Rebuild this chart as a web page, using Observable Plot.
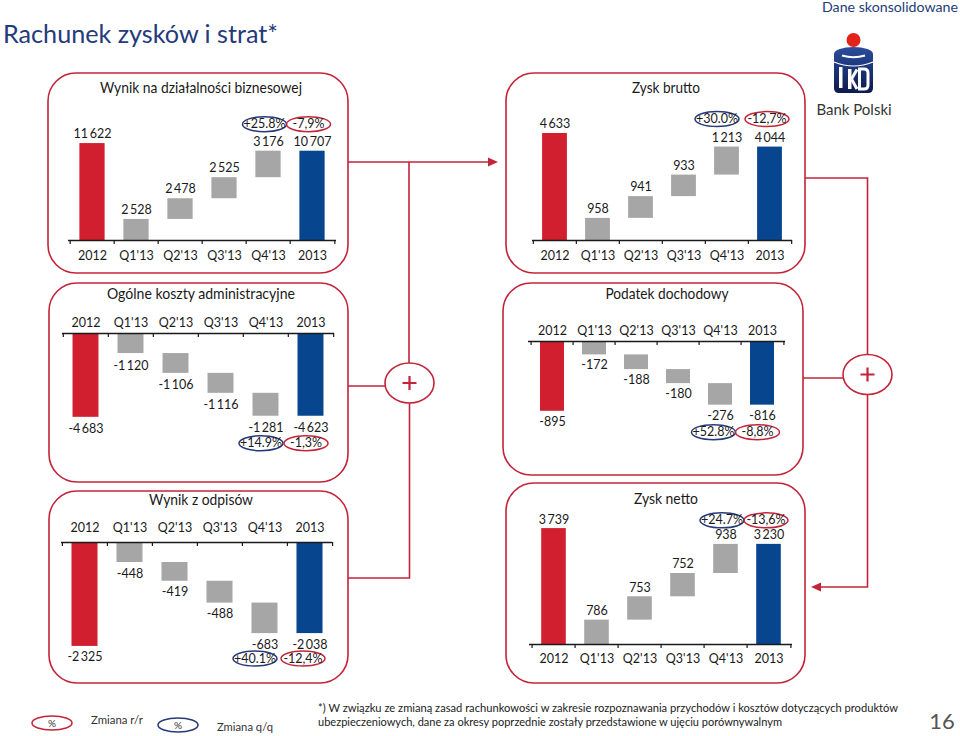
<!DOCTYPE html>
<html><head><meta charset="utf-8">
<script src="https://cdn.jsdelivr.net/npm/d3@7"></script>
<script src="https://cdn.jsdelivr.net/npm/@observablehq/plot@0.6"></script>
<style>
body{margin:0;background:#fff;}
#root{position:relative;width:960px;height:736px;overflow:hidden;background:#fff;font-family:Lato,sans-serif;}
#root > svg.overlay{position:absolute;left:0;top:0;}
.chart{position:absolute;}
</style></head><body><div id="root"></div>
<script>
// ---- data ----
const categories = ["2012", "Q1'13", "Q2'13", "Q3'13", "Q4'13", "2013"];
const panelTitles = ["Wynik na działalności biznesowej", "Zysk brutto", "Ogólne koszty administracyjne", "Podatek dochodowy", "Wynik z odpisów", "Zysk netto"];
const wynikBiznesowy = [11622, 2528, 2478, 2525, 3176, 10707];
const zyskBrutto = [4633, 958, 941, 933, 1213, 4044];
const kosztyAdmin = [-4683, -1120, -1106, -1116, -1281, -4623];
const podatek = [-895, -172, -188, -180, -276, -816];
const wynikOdpisy = [-2325, -448, -419, -488, -683, -2038];
const zyskNetto = [3739, 786, 753, 752, 938, 3230];
const zmianaQQ = ["+25.8%", "+30.0%", "+14.9%", "+52.8%", "+40.1%", "+24.7%"];
const zmianaRR = ["-7,9%", "-12,7%", "-1,3%", "-8,8%", "-12,4%", "-13,6%"];
const series = [wynikBiznesowy, zyskBrutto, kosztyAdmin, podatek, wynikOdpisy, zyskNetto];

// ---- layout (page pixel geometry, not data) ----
const layout = [
  {left:48, top:73, w:300, h:200, x0:68, x1:336, axisY:240, ppu:0.00834, valDy:-9.5, tickDy:15, annDy:-27, annDx:[-4,-4], title:{x:201,y:93,len:202}},
  {left:506, top:73, w:299, h:200, x0:532, x1:792, axisY:240, ppu:0.0231, valDy:-9.5, tickDy:15, annDy:-28, annDx:[-10,-3], title:{x:666,y:93,len:68}},
  {left:49, top:283, w:299, h:199, x0:62, x1:334, axisY:333, ppu:0.0179, valDy:12, tickDy:-10.5, annDy:27, annDx:[-5,-5], title:{x:201,y:299,len:188}},
  {left:503, top:283, w:300, h:192, x0:528, x1:785, axisY:341, ppu:0.078, valDy:10.5, tickDy:-11, annDy:27, annDx:[-7,-5], title:{x:667,y:299,len:123}},
  {left:49, top:491, w:299, h:192, x0:61, x1:332, axisY:542, ppu:0.0447, valDy:11, tickDy:-15, annDy:25, annDx:[-10,-7], title:{x:201,y:505,len:104}},
  {left:506, top:483, w:299, h:200, x0:529, x1:792, axisY:644, ppu:0.031, valDy:-9, tickDy:14, annDy:-24, annDx:[-4,-3], title:{x:666,y:504,len:64}}
];

const RED = "#c3243a", NAVY = "#27397a", TXT = "#1a1a1a";
const fmt = d3.formatLocale({decimal: ",", thousands: "\u2009", grouping: [3], currency: ["", ""], minus: "-"}).format(",d");

const ellipse = {
  draw(ctx) {
    const rx = 22, ry = 7.5, k = 0.5523;
    ctx.moveTo(rx, 0);
    ctx.bezierCurveTo(rx, ry * k, rx * k, ry, 0, ry);
    ctx.bezierCurveTo(-rx * k, ry, -rx, ry * k, -rx, 0);
    ctx.bezierCurveTo(-rx, -ry * k, -rx * k, -ry, 0, -ry);
    ctx.bezierCurveTo(rx * k, -ry, rx, -ry * k, rx, 0);
    ctx.closePath();
  }
};

function chart(values, qq, rr, L) {
  let cum = 0;
  const last = categories.length - 1;
  const rows = categories.map((cat, i) => {
    if (i === 0 || i === last) return {cat, y1: 0, y2: values[i], value: values[i], kind: i === 0 ? "prev" : "curr"};
    const y1 = cum; cum += values[i];
    return {cat, y1, y2: cum, value: values[i], kind: "step"};
  });
  const band = (L.x1 - L.x0) / categories.length;
  const axisLocal = L.axisY - L.top;
  const ext = values[0];
  const total = values[last];
  const tickLen = -4 / L.ppu;
  const anns = [
    {cat: "Q4'13", label: qq, stroke: NAVY, dx: L.annDx[0]},
    {cat: "2013", label: rr, stroke: RED, dx: L.annDx[1]}
  ];
  return Plot.plot({
    width: L.w, height: L.h,
    marginLeft: L.x0 - L.left, marginRight: L.left + L.w - L.x1, marginTop: 0, marginBottom: 0,
    style: {background: "transparent", overflow: "visible", fontFamily: "Lato, sans-serif"},
    x: {type: "band", domain: categories, padding: 0, axis: null},
    y: {domain: [0, ext], range: [axisLocal, axisLocal - ext * L.ppu], axis: null},
    color: {domain: ["prev", "step", "curr"], range: ["#d21f2f", "#a6a6a6", "#08458f"]},
    marks: [
      Plot.barY(rows, {x: "cat", y1: "y1", y2: "y2", fill: "kind", insetLeft: band * 0.21, insetRight: band * 0.21}),
      Plot.ruleY([0], {stroke: TXT, strokeWidth: 1.6}),
      Plot.ruleX(categories, {x: d => d, y1: 0, y2: tickLen, dx: -band / 2, stroke: TXT, strokeWidth: 1.2}),
      Plot.ruleX([categories[last]], {x: d => d, y1: 0, y2: tickLen, dx: band / 2, stroke: TXT, strokeWidth: 1.2}),
      Plot.text(categories, {x: d => d, y: () => 0, dy: L.tickDy, text: d => d, fontSize: 12.5, fill: TXT}),
      Plot.text(rows, {x: "cat", y: "y2", dy: L.valDy, text: d => fmt(d.value), fontSize: 12.5, fill: TXT}),
      ...anns.flatMap(a => [
        Plot.dot([a], {x: "cat", y: () => total, dx: a.dx, dy: L.annDy, symbol: ellipse, r: 5, stroke: a.stroke, strokeWidth: 1.5, fill: "none"}),
        Plot.text([a], {x: "cat", y: () => total, dx: a.dx, dy: L.annDy, text: "label", fontSize: 12.5, fill: TXT})
      ])
    ]
  });
}

const root = document.getElementById("root");

// ---- decorative overlay (panels, connectors, logo, texts) ----
const panelRects = layout.map(L => `<rect x="${L.left}" y="${L.top}" width="${L.w}" height="${L.h}" rx="28" ry="28" fill="none" stroke="${RED}" stroke-width="1.6"/>`).join("");
const titleTexts = layout.map((L, i) => `<text x="${L.title.x}" y="${L.title.y}" text-anchor="middle" font-size="15" fill="${TXT}" textLength="${L.title.len}" lengthAdjust="spacingAndGlyphs">${panelTitles[i]}</text>`).join("");
const overlay = `
<svg class="overlay" width="960" height="736" viewBox="0 0 960 736" font-family="Lato, sans-serif">
  <defs><linearGradient id="pko" x1="0" y1="0" x2="0" y2="1"><stop offset="0" stop-color="#2b4d9c"/><stop offset="1" stop-color="#0c1a4e"/></linearGradient></defs>
  <text x="3" y="43" font-size="25" fill="#243a7a" textLength="275" lengthAdjust="spacingAndGlyphs">Rachunek zysków i strat*</text>
  <text x="958" y="12" font-size="13.5" fill="#253c78" text-anchor="end" textLength="136" lengthAdjust="spacingAndGlyphs">Dane skonsolidowane</text>
  ${panelRects}
  ${titleTexts}
  <g stroke="${RED}" stroke-width="1.6" fill="none">
    <path d="M348,162 H490"/>
    <path d="M409,162 V363 M409.5,403 V578 H348"/>
    <path d="M348,386 H385"/>
    <ellipse cx="409.5" cy="383" rx="24.5" ry="20"/>
    <path d="M402.5,383 H416.5 M409.5,376 V390" stroke-width="2.2"/>
    <path d="M805,178 H867.5 V354.5 M867.5,394 V587 H820"/>
    <path d="M803,378 H843"/>
    <ellipse cx="867.5" cy="374.5" rx="24.5" ry="20"/>
    <path d="M860.5,374.5 H874.5 M867.5,367.5 V381.5" stroke-width="2.2"/>
  </g>
  <polygon points="498,162 488,157.5 488,166.5" fill="${RED}"/>
  <polygon points="811,587 821,582.5 821,591.5" fill="${RED}"/>
  <!-- logo -->
  <circle cx="853.5" cy="40" r="7" fill="#e2231a"/>
  <path d="M834,54 A19.5,7 0 0 1 873,54 L873,88 Q873,93 868,93 L839,93 Q834,93 834,88 Z" fill="url(#pko)"/>
  <path d="M842,55.5 Q853.5,59 865,55.5" stroke="#fff" stroke-width="2" fill="none"/>
  <path d="M834,62 Q853.5,70 873,62" stroke="#fff" stroke-width="1.2" fill="none"/>
  <rect x="839" y="67" width="3.5" height="21" fill="#fff"/>
  <rect x="848" y="69" width="3.5" height="20" fill="#fff"/>
  <path d="M851.5,79 L857,69.5 M851.5,79 L857,89" stroke="#fff" stroke-width="3" fill="none"/>
  <path d="M859.5,69 H864 Q868,69 868,73 V85 Q868,89 864,89 H859.5 Z" stroke="#fff" stroke-width="3" fill="none"/>
  <text x="854" y="115" text-anchor="middle" font-size="15" fill="#333">Bank Polski</text>
  <!-- footer -->
  <ellipse cx="52" cy="723" rx="20" ry="7" fill="none" stroke="${RED}" stroke-width="1.5"/>
  <text x="52" y="726.5" text-anchor="middle" font-size="10" fill="#333">%</text>
  <text x="91" y="724" font-size="12" fill="#333" textLength="52" lengthAdjust="spacingAndGlyphs">Zmiana r/r</text>
  <ellipse cx="178" cy="725" rx="20" ry="7" fill="none" stroke="${NAVY}" stroke-width="1.5"/>
  <text x="178" y="728.5" text-anchor="middle" font-size="10" fill="#333">%</text>
  <text x="217" y="731" font-size="12" fill="#333" textLength="56" lengthAdjust="spacingAndGlyphs">Zmiana q/q</text>
  <text x="318" y="712" font-size="11.2" fill="#222" textLength="580" lengthAdjust="spacingAndGlyphs">*) W związku ze zmianą zasad rachunkowości w zakresie rozpoznawania przychodów i kosztów dotyczących produktów</text>
  <text x="318" y="726" font-size="11.2" fill="#222" textLength="464" lengthAdjust="spacingAndGlyphs">ubezpieczeniowych, dane za okresy poprzednie zostały przedstawione w ujęciu porównywalnym</text>
  <text x="942" y="729" text-anchor="middle" font-size="22" fill="#555">16</text>
</svg>`;
root.insertAdjacentHTML("beforeend", overlay);

layout.forEach((L, i) => {
  const div = document.createElement("div");
  div.className = "chart";
  div.style.left = L.left + "px";
  div.style.top = L.top + "px";
  div.appendChild(chart(series[i], zmianaQQ[i], zmianaRR[i], L));
  root.appendChild(div);
});
</script>
</body></html>
